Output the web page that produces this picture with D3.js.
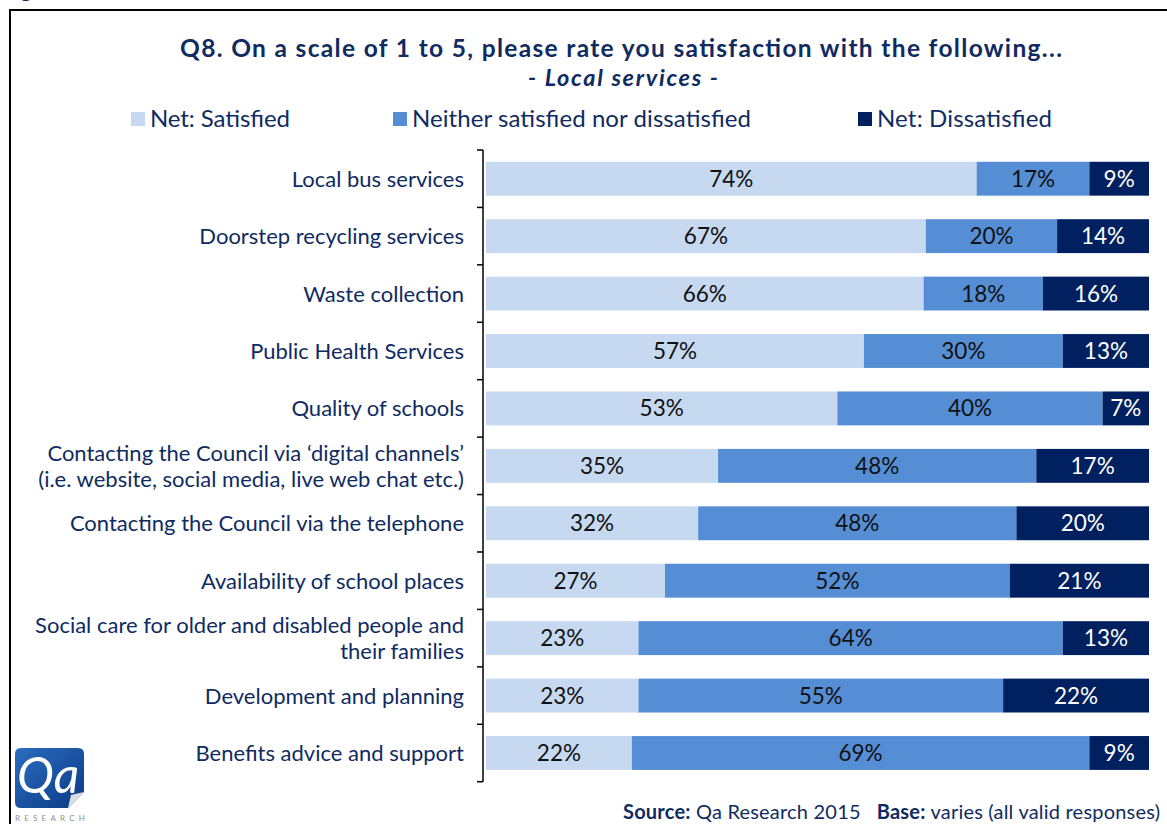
<!DOCTYPE html>
<html>
<head>
<meta charset="utf-8">
<script src="https://cdn.jsdelivr.net/npm/d3@7"></script>
<style>
  html, body { margin: 0; padding: 0; background: #fff; }
  svg { display: block; }
  text { font-family: Lato, "Open Sans", sans-serif; white-space: pre; }
</style>
</head>
<body>
<svg id="chart" width="1167" height="824"></svg>
<script>
// Survey categories (top to bottom)
const categories = [
  ["Local bus services"],
  ["Doorstep recycling services"],
  ["Waste collection"],
  ["Public Health Services"],
  ["Quality of schools"],
  ["Contacting the Council via \u2018digital channels\u2019", "(i.e. website, social media, live web chat etc.)"],
  ["Contacting the Council via the telephone"],
  ["Availability of school places"],
  ["Social care for older and disabled people and", "their families"],
  ["Development and planning"],
  ["Benefits advice and support"]
];

// Response shares (%)
const satisfied    = [74, 67, 66, 57, 53, 35, 32, 27, 23, 23, 22];
const neither      = [17, 20, 18, 30, 40, 48, 48, 52, 64, 55, 69];
const dissatisfied = [ 9, 14, 16, 13,  7, 17, 20, 21, 13, 22,  9];

const seriesNames = ["Net: Satisfied", "Neither satisfied nor dissatisfied", "Net: Dissatisfied"];
const seriesKeys = ["sat", "neu", "dis"];
const colors = ["#C6D9F1", "#558ED5", "#002060"];
const valueTextColors = ["#111111", "#111111", "#ffffff"];

const navy = "#0F2B62";

const rows = categories.map((c, i) => ({
  id: i,
  label: c,
  sat: satisfied[i],
  neu: neither[i],
  dis: dissatisfied[i]
}));

const svg = d3.select("#chart");

// Frame
svg.append("rect")
  .attr("x", 10).attr("y", 10)
  .attr("width", 1200).attr("height", 900)
  .attr("fill", "none").attr("stroke", "#000").attr("stroke-width", 2);

// Heading above the frame (mostly out of view)
svg.append("text")
  .attr("x", 2).attr("y", -3)
  .attr("fill", navy).attr("font-weight", "bold").attr("font-size", 22)
  .text("Figure");

// Title
svg.append("text")
  .attr("x", 180).attr("y", 57)
  .attr("fill", navy).attr("font-weight", "bold").attr("font-size", 24.5)
  .attr("textLength", 882).attr("lengthAdjust", "spacing")
  .text("Q8. On a scale of 1 to 5, please rate you satisfaction with the following...");
svg.append("text")
  .attr("x", 528).attr("y", 86)
  .attr("fill", navy).attr("font-weight", "bold").attr("font-style", "italic").attr("font-size", 23.5)
  .attr("textLength", 190).attr("lengthAdjust", "spacing")
  .text("- Local services -");

// Legend
const legendX = [131, 393, 858];
const legendW = [140, 339, 175];
const legend = svg.append("g").selectAll("g")
  .data(seriesNames)
  .join("g")
  .attr("transform", (d, i) => `translate(${legendX[i]},112)`);
legend.append("rect")
  .attr("width", 14).attr("height", 14)
  .attr("fill", (d, i) => colors[i]);
legend.append("text")
  .attr("x", 19).attr("y", 15)
  .attr("fill", navy).attr("font-size", 24)
  .attr("textLength", (d, i) => legendW[i]).attr("lengthAdjust", "spacing")
  .text(d => d);

// Scales
const x = d3.scaleLinear().domain([0, 1]).range([486, 1149]);
const y = d3.scaleBand()
  .domain(rows.map(r => r.id))
  .range([150, 781.7])
  .paddingInner(0.41)
  .paddingOuter(0.205);

// Normalised stack (some rows sum to 101%)
const stack = d3.stack().keys(seriesKeys).offset(d3.stackOffsetExpand);
const series = stack(rows);

const layers = svg.append("g").selectAll("g")
  .data(series)
  .join("g")
  .attr("fill", (d, i) => colors[i]);

layers.selectAll("rect")
  .data(d => d)
  .join("rect")
  .attr("x", d => x(d[0]))
  .attr("y", d => y(d.data.id))
  .attr("width", d => x(d[1]) - x(d[0]))
  .attr("height", y.bandwidth());

// Segment value labels
series.forEach((s, si) => {
  svg.append("g").selectAll("text")
    .data(s)
    .join("text")
    .attr("x", d => (x(d[0]) + x(d[1])) / 2)
    .attr("y", d => y(d.data.id) + y.bandwidth() / 2 + 8)
    .attr("text-anchor", "middle")
    .attr("font-size", 22.5)
    .attr("fill", valueTextColors[si])
    .text(d => d.data[s.key] + "%");
});

// Category axis with tick marks between bands
const axisX = 483;
const step = y.step();
svg.append("line")
  .attr("x1", axisX).attr("x2", axisX)
  .attr("y1", 150).attr("y2", 781.7)
  .attr("stroke", "#000").attr("stroke-width", 1.5);
svg.append("g").selectAll("line")
  .data(d3.range(rows.length + 1))
  .join("line")
  .attr("x1", axisX - 6).attr("x2", axisX)
  .attr("y1", i => 150 + i * step)
  .attr("y2", i => 150 + i * step)
  .attr("stroke", "#000").attr("stroke-width", 1.5);

// Category labels
const labels = svg.append("g").selectAll("text")
  .data(rows)
  .join("text")
  .attr("text-anchor", "end")
  .attr("fill", navy)
  .attr("font-size", 22)
  .attr("x", 464)
  .attr("y", d => y(d.id) + y.bandwidth() / 2 + 8 - (d.label.length - 1) * 13);
labels.selectAll("tspan")
  .data(d => d.label)
  .join("tspan")
  .attr("x", 464)
  .attr("dy", (d, i) => i === 0 ? 0 : 26)
  .text(d => d);

// Logo
const logo = svg.append("g").attr("transform", "translate(15,748)");
const grad = svg.append("defs").append("linearGradient")
  .attr("id", "logoGrad").attr("x1", 0).attr("y1", 0).attr("x2", 1).attr("y2", 1);
grad.append("stop").attr("offset", 0).attr("stop-color", "#2C6CC0");
grad.append("stop").attr("offset", 1).attr("stop-color", "#0B3B84");
logo.append("path")
  .attr("d", "M6,0 H63 Q69,0 69,6 V44 L53,60 H6 Q0,60 0,54 V6 Q0,0 6,0 Z")
  .attr("fill", "url(#logoGrad)");
logo.append("path")
  .attr("d", "M69,44 L53,60 L56,47 Z")
  .attr("fill", "#d9dde4");
logo.append("text")
  .attr("x", 2).attr("y", 45)
  .attr("fill", "#fff")
  .attr("font-family", "'Liberation Serif', serif")
  .attr("font-style", "italic")
  .attr("font-size", 50)
  .attr("textLength", 62).attr("lengthAdjust", "spacingAndGlyphs")
  .text("Qa");
logo.append("text")
  .attr("x", 0).attr("y", 73)
  .attr("fill", "#8a8f99")
  .attr("font-size", 8)
  .attr("letter-spacing", 4.2)
  .text("RESEARCH");

// Source note
const src = svg.append("text")
  .attr("x", 623).attr("y", 819)
  .attr("fill", navy).attr("font-size", 20)
  .attr("textLength", 537).attr("lengthAdjust", "spacing");
src.append("tspan").attr("font-weight", "bold").text("Source:");
src.append("tspan").text(" Qa Research 2015   ");
src.append("tspan").attr("font-weight", "bold").text("Base:");
src.append("tspan").text(" varies (all valid responses)");
</script>
</body>
</html>
